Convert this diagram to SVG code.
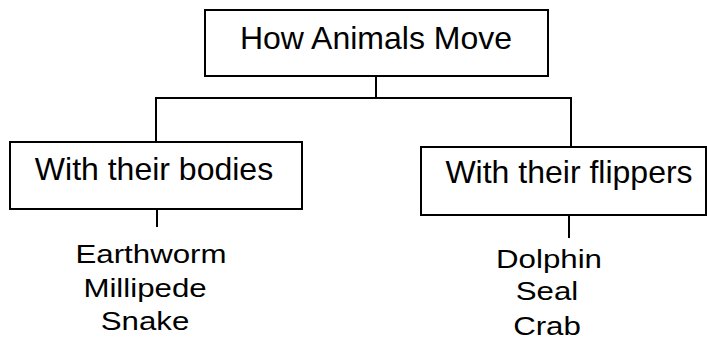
<svg xmlns="http://www.w3.org/2000/svg" width="707" height="342" viewBox="0 0 707 342">
<style>
.box{fill:#fff;stroke:#000;stroke-width:2}
.lbl{font-family:"Liberation Sans",Arial,sans-serif;font-size:32px;fill:#000;text-anchor:middle}
.item{font-family:"Liberation Sans",Arial,sans-serif;font-size:25px;fill:#000;text-anchor:middle}
.conn{stroke:#000;stroke-width:2;fill:none}
</style>
<rect width="707" height="342" fill="#fff"/>
<g id="connectors">
<path class="conn" d="M376,76 V99"/>
<path class="conn" d="M156,142 V98 H571 V147"/>
<path class="conn" d="M157,209 V227"/>
<path class="conn" d="M569,215 V238"/>
</g>
<g id="root">
<rect class="box" x="205" y="10" width="343" height="66"/>
<text class="lbl" x="376" y="49">How Animals Move</text>
</g>
<g id="bodies">
<rect class="box" x="10" y="142" width="292" height="67"/>
<text class="lbl" x="154" y="180">With their bodies</text>
</g>
<g id="flippers">
<rect class="box" x="421" y="147" width="285" height="68"/>
<text class="lbl" x="569" y="183">With their flippers</text>
</g>
<g id="bodies-items">
<text class="item" transform="translate(151,263) scale(1.25,1)">Earthworm</text>
<text class="item" transform="translate(145,297) scale(1.25,1)">Millipede</text>
<text class="item" transform="translate(145,330) scale(1.25,1)">Snake</text>
</g>
<g id="flippers-items">
<text class="item" transform="translate(549,268) scale(1.25,1)">Dolphin</text>
<text class="item" transform="translate(547,300) scale(1.25,1)">Seal</text>
<text class="item" transform="translate(547,335) scale(1.25,1)">Crab</text>
</g>
</svg>
